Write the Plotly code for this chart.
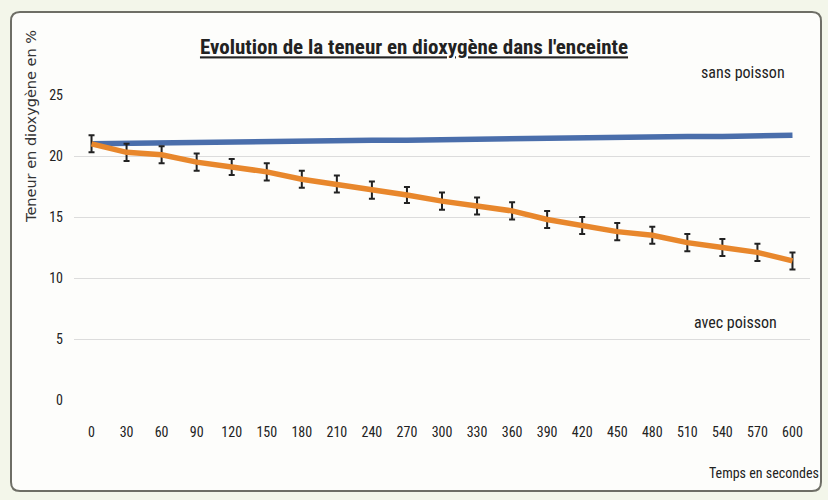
import plotly.graph_objects as go

temps = [0, 30, 60, 90, 120, 150, 180, 210, 240, 270, 300, 330, 360, 390, 420, 450, 480, 510, 540, 570, 600]
tick_labels = [str(t) for t in temps]
sans_poisson = [21.0, 21.05, 21.1, 21.1, 21.15, 21.2, 21.2, 21.25, 21.3, 21.3, 21.35, 21.4, 21.4, 21.45, 21.5, 21.5, 21.55, 21.6, 21.6, 21.65, 21.7]
avec_poisson = [21.0, 20.3, 20.1, 19.5, 19.1, 18.7, 18.1, 17.7, 17.2, 16.8, 16.3, 15.9, 15.5, 14.8, 14.3, 13.8, 13.5, 12.9, 12.5, 12.1, 11.4]
erreur = [0.7, 0.7, 0.7, 0.7, 0.65, 0.7, 0.7, 0.7, 0.7, 0.65, 0.7, 0.7, 0.7, 0.7, 0.7, 0.7, 0.7, 0.7, 0.7, 0.7, 0.7]

narrow = "Liberation Sans Narrow, Roboto Condensed, Arial Narrow, sans-serif"

fig = go.Figure()
fig.add_trace(go.Scatter(
    x=temps, y=sans_poisson, mode="lines", name="sans poisson",
    line=dict(color="#4a6eab", width=5.5), showlegend=False))
fig.add_trace(go.Scatter(
    x=temps, y=avec_poisson, mode="lines", name="avec poisson",
    line=dict(color="#e8872c", width=5.5), showlegend=False,
    error_y=dict(type="data", array=erreur, visible=True, color="#222222",
                 thickness=2, width=3)))

fig.update_layout(
    width=828, height=500,
    margin=dict(l=74, r=18, t=95, b=100),
    paper_bgcolor="#f3f6ea",
    plot_bgcolor="rgba(0,0,0,0)",
    title=dict(text="<b><u>Evolution de la teneur en dioxygène dans l'enceinte</u></b>",
               x=0.5, xanchor="center", y=1 - 47 / 500, yanchor="middle",
               font=dict(family=narrow, size=21, color="#222222")),
    xaxis=dict(range=[-15, 615], tickmode="array", tickvals=temps, ticktext=tick_labels,
               showgrid=False, zeroline=False, showline=False, ticks="",
               ticklabelstandoff=22,
               tickfont=dict(family=narrow, size=14, color="#222222")),
    yaxis=dict(range=[0, 25], tickvals=[0, 5, 10, 15, 20, 25],
               showgrid=True, gridcolor="#dcdcdc", gridwidth=1, zeroline=False,
               showline=False, ticks="", ticklabelstandoff=10,
               tickfont=dict(family=narrow, size=14, color="#222222")),
    font=dict(family=narrow),
)


def px(x):
    return (x - 74) / 736


def py(y):
    return (400 - y) / 305


L, R, T, B, r = 11, 821, 12, 491, 9
path = (f"M {px(L + r)},{py(T)} L {px(R - r)},{py(T)} Q {px(R)},{py(T)} {px(R)},{py(T + r)} "
        f"L {px(R)},{py(B - r)} Q {px(R)},{py(B)} {px(R - r)},{py(B)} "
        f"L {px(L + r)},{py(B)} Q {px(L)},{py(B)} {px(L)},{py(B - r)} "
        f"L {px(L)},{py(T + r)} Q {px(L)},{py(T)} {px(L + r)},{py(T)} Z")
fig.add_shape(type="path", xref="paper", yref="paper", path=path,
              line=dict(color="#6e6e66", width=2), fillcolor="#fdfdfb", layer="below")

fig.add_annotation(text="sans poisson", xref="paper", yref="paper",
                   x=px(743), y=py(72), showarrow=False,
                   xanchor="center", yanchor="middle",
                   font=dict(family=narrow, size=16, color="#222222"))
fig.add_annotation(text="avec poisson", xref="paper", yref="paper",
                   x=px(735), y=py(322), showarrow=False,
                   xanchor="center", yanchor="middle",
                   font=dict(family=narrow, size=16, color="#222222"))
fig.add_annotation(text="Temps en secondes", xref="paper", yref="paper",
                   x=px(821), y=py(473), xanchor="right", yanchor="middle",
                   showarrow=False,
                   font=dict(family=narrow, size=14, color="#222222"))
fig.add_annotation(text="Teneur en dioxygène en %", xref="paper", yref="paper",
                   x=px(31), y=py(127), textangle=-90, showarrow=False,
                   xanchor="center", yanchor="middle",
                   font=dict(family="DejaVu Sans, Verdana, sans-serif", size=14.5, color="#333333"))

fig.write_html("out.html", config={"displayModeBar": False},
               post_script="document.body.style.margin='0';")
